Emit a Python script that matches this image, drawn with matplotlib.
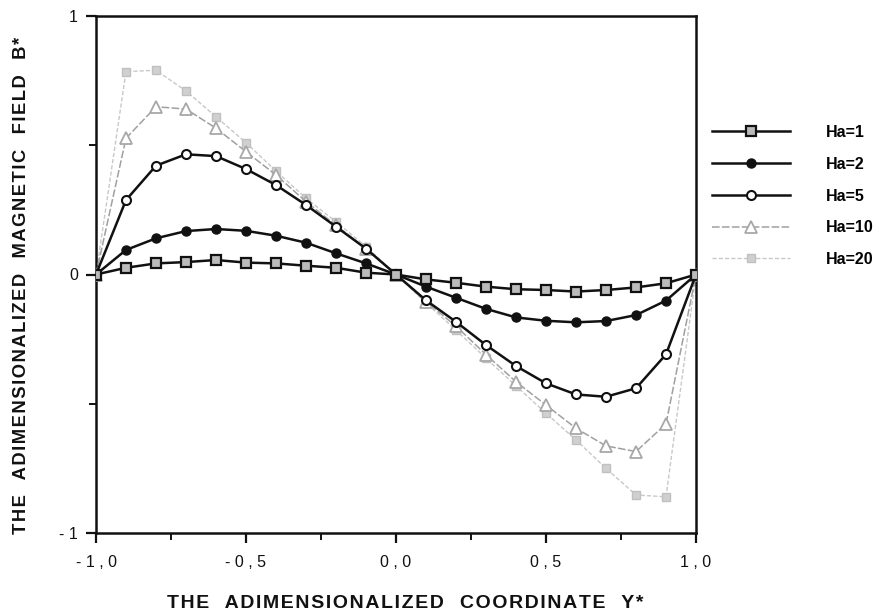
import matplotlib
matplotlib.use("Agg")
import matplotlib.pyplot as plt
from matplotlib.ticker import FixedLocator, MultipleLocator

y_coord = [-1.0, -0.9, -0.8, -0.7, -0.6, -0.5, -0.4, -0.3, -0.2, -0.1, 0.0,
           0.1, 0.2, 0.3, 0.4, 0.5, 0.6, 0.7, 0.8, 0.9, 1.0]

ha1 = [0.0, 0.026, 0.043, 0.048, 0.056, 0.046, 0.043, 0.034, 0.026, 0.007, 0.0,
       -0.019, -0.032, -0.047, -0.057, -0.060, -0.066, -0.060, -0.050, -0.034, 0.0]
ha2 = [0.0, 0.095, 0.140, 0.168, 0.176, 0.169, 0.150, 0.123, 0.082, 0.043, 0.0,
       -0.047, -0.090, -0.133, -0.166, -0.179, -0.185, -0.180, -0.157, -0.101, 0.0]
ha5 = [0.0, 0.288, 0.421, 0.465, 0.458, 0.408, 0.346, 0.269, 0.185, 0.100, 0.0,
       -0.100, -0.183, -0.273, -0.354, -0.421, -0.464, -0.473, -0.440, -0.309, 0.0]
ha10 = [0.0, 0.527, 0.649, 0.640, 0.566, 0.475, 0.385, 0.282, 0.190, 0.100, 0.0,
        -0.105, -0.200, -0.310, -0.415, -0.505, -0.595, -0.663, -0.685, -0.578, 0.0]
ha20 = [0.0, 0.785, 0.790, 0.710, 0.610, 0.510, 0.400, 0.295, 0.204, 0.108, 0.0,
        -0.110, -0.215, -0.324, -0.431, -0.537, -0.640, -0.750, -0.853, -0.860, 0.0]

series_labels = ["Ha=1", "Ha=2", "Ha=5", "Ha=10", "Ha=20"]
x_ticks = [-1.0, -0.5, 0.0, 0.5, 1.0]
x_ticklabels = ["- 1 , 0", "- 0 , 5", "0 , 0", "0 , 5", "1 , 0"]
y_ticks = [-1, 0, 1]
y_ticklabels = ["- 1", "0", "1"]
x_title = "THE ADIMENSIONALIZED COORDINATE Y*"
y_title = "THE ADIMENSIONALIZED MAGNETIC FIELD B*"


def tracked(s):
    # emulate the wide letter spacing of the original lettering
    words = s.split(" ")
    return "   ".join("\u200a".join(w) for w in words)


plt.rcParams['font.family'] = ['Liberation Sans', 'DejaVu Sans']

fig = plt.figure(figsize=(8.87, 6.16), dpi=100)
ax = fig.add_axes([96/887, 83/616, 600/887, 517/616])

ax.plot(y_coord, ha20, color='#c8c8c8', lw=1.0, ls=(0, (3, 1.5)), marker='s',
        ms=6, mfc='#d0d0d0', mec='#c0c0c0', mew=1.0, label=series_labels[4], zorder=2)
ax.plot(y_coord, ha10, color='#a0a0a0', lw=1.1, ls=(0, (5, 1.5)), marker='^',
        ms=8, mfc='white', mec='#a8a8a8', mew=1.3, label=series_labels[3], zorder=3)
ax.plot(y_coord, ha5, color='#111111', lw=1.8, marker='o',
        ms=6.5, mfc='white', mec='#111111', mew=1.5, label=series_labels[2], zorder=4)
ax.plot(y_coord, ha2, color='#111111', lw=1.8, marker='o',
        ms=6.5, mfc='#111111', mec='#111111', mew=1.0, label=series_labels[1], zorder=5)
ax.plot(y_coord, ha1, color='#111111', lw=1.8, marker='s',
        ms=6.5, mfc='#bbbbbb', mec='#111111', mew=1.6, label=series_labels[0], zorder=6)

ax.set_xlim(-1, 1)
ax.set_ylim(-1, 1)
ax.xaxis.set_major_locator(FixedLocator(x_ticks))
ax.xaxis.set_minor_locator(MultipleLocator(0.25))
ax.set_xticklabels(x_ticklabels)
ax.yaxis.set_major_locator(FixedLocator(y_ticks))
ax.yaxis.set_minor_locator(MultipleLocator(0.5))
ax.set_yticklabels(y_ticklabels)

for s in ax.spines.values():
    s.set_linewidth(1.8)
    s.set_color('#111111')
ax.tick_params(axis='both', which='major', direction='out', length=7, width=1.6,
               labelsize=11.5, colors='#111111', pad=6)
ax.tick_params(axis='both', which='minor', direction='out', length=5, width=1.4,
               colors='#111111')
ax.tick_params(axis='x', which='major', pad=9)

fig.text(405/887, 1 - 604/616, tracked(x_title), fontsize=14, fontweight='bold',
         ha='center', va='center', color='#111111')
fig.text(22/887, 1 - 285/616, tracked(y_title), fontsize=13.2, fontweight='bold',
         ha='center', va='center', rotation=90, color='#111111')

handles, labels = ax.get_legend_handles_labels()
leg = fig.legend(handles[::-1], labels[::-1], loc='upper left',
                 bbox_to_anchor=(712/887, 1 - 125/616), frameon=False,
                 prop={'weight': 'bold', 'size': 11.5}, handlelength=4.9,
                 handletextpad=2.2, labelspacing=1.05, borderpad=0, borderaxespad=0)

fig.savefig("out.png", dpi=100, facecolor='white')
